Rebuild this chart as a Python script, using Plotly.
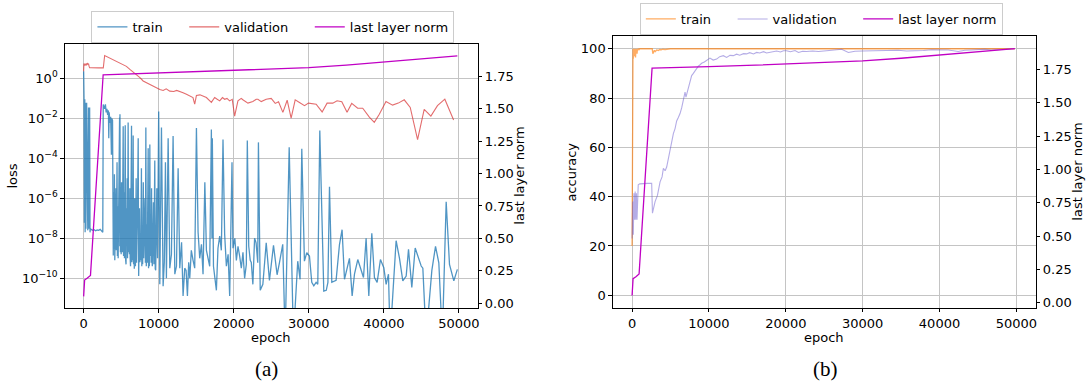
import plotly.graph_objects as go

W, H = 1091, 388

# ---------------- data ----------------
x_ticks = [0, 10000, 20000, 30000, 40000, 50000]
loss_ticks = [1e-10, 1e-8, 1e-6, 1e-4, 1e-2, 1e0]
loss_tick_text = ["10<sup>−10</sup>", "10<sup>−8</sup>", "10<sup>−6</sup>",
                  "10<sup>−4</sup>", "10<sup>−2</sup>", "10<sup>0</sup>"]
norm_ticks = [0.0, 0.25, 0.5, 0.75, 1.0, 1.25, 1.5, 1.75]
acc_ticks = [0, 20, 40, 60, 80, 100]

# last layer norm (shared by both panels)
norm_epochs = [0, 130, 500, 910, 2600, 5000, 10000, 15000, 20000, 25000,
               30000, 35000, 40000, 45000, 49800]
norm_values = [0.054, 0.18, 0.195, 0.215, 1.760, 1.765, 1.772, 1.780, 1.790,
               1.802, 1.815, 1.834, 1.858, 1.882, 1.906]

# training loss
train_loss_epochs = [
    0, 50, 100, 150, 200, 250, 300, 400, 450, 500, 550, 650, 700, 800, 850, 900,
    1000, 1200, 1400, 1600, 1800, 2000, 2200, 2400, 2550, 2610,
    2700, 2800, 2900, 3000, 3100, 3200, 3300, 3350, 3400, 3500, 3600, 3700, 3750, 3850,
    3950, 4000, 4050, 4100, 4150, 4200, 4250, 4300, 4350, 4400, 4450, 4500, 4550, 4600,
    4650, 4700, 4790, 4815, 4840, 4900, 4950, 5000, 5050, 5100, 5150, 5200, 5270, 5320,
    5380, 5440, 5500, 5540, 5600, 5650, 5700, 5750, 5800, 5850, 5930, 5990, 6050, 6100,
    6150, 6200, 6250, 6300, 6380, 6430, 6480, 6540, 6600, 6650, 6700, 6750, 6800, 6850,
    6900, 6950, 7000, 7050, 7100, 7170, 7270, 7330, 7380, 7440, 7500, 7560, 7620, 7700,
    7750, 7800, 7860, 7950, 8000, 8050, 8100, 8170, 8230, 8290, 8350, 8420, 8480, 8530,
    8600, 8650, 8700, 8760, 8820, 8880, 8950, 9000, 9050, 9100, 9150, 9220, 9300, 9360,
    9420, 9480, 9540, 9600, 9670, 9750,
    9850, 10000, 10150, 10370, 10590, 10750, 10900, 11030, 11260, 11480, 11700, 11920,
    12150, 12370, 12590, 12810, 13050, 13250, 13470, 13650, 13830, 14000, 14140, 14350,
    14580, 14800, 15030, 15250, 15470, 15700, 15910, 16150, 16360, 16600, 16800, 17020,
    17100, 17150, 17300, 17690, 17900, 18130, 18350, 18570, 18790, 19020, 19250, 19460,
    19600, 19770, 19900, 20150, 20350, 20570, 20790, 21010, 21230, 21450, 21680, 21810,
    22000, 22200, 22340, 22550, 22780, 22980, 23200, 23290, 23530, 23880, 24330, 24760,
    25300, 25780, 26100, 26530, 26850, 27390, 27950, 28530, 28840, 29070, 29420, 29730,
    30090, 30400, 30670, 30980, 31200, 31470, 32000, 32330, 32550, 32760, 33070, 33640,
    34090, 34440, 34760, 35070, 35420, 35780, 36090, 36530, 36980, 37290, 37640, 38000,
    38400, 38750, 39110, 39550, 40000, 40310, 40620, 40840, 41640, 42090, 42530, 42980,
    43290, 43730, 44180, 44530, 44980, 45200, 45640, 46400, 46890, 47330, 47800, 48310,
    48750, 49330, 49800]
train_loss = [
    2.3, 1.1e-1, 6e-8, 9e-2, 2e-8, 6e-2, 3e-8, 6e-2, 4e-8, 5e-2, 2.5e-8, 3.5e-2, 3e-8, 3.5e-2, 2e-8, 3e-8,
    2.8e-8, 2.5e-8, 2.7e-8, 2.4e-8, 2.6e-8, 2.5e-8, 2.8e-8, 2.3e-8, 2.0e-8, 5e-2,
    4e-2, 3e-2, 5e-2, 2e-2, 3e-2, 1.5e-2, 2.5e-2, 1e-3, 2e-2, 6e-3, 1.2e-2, 1.5e-4, 1e-2, 8e-3,
    1.4e-9, 2e-6, 3e-9, 1.6e-5, 7.9e-10, 5e-7, 2e-9, 3.2e-6, 2.5e-9, 1e-7, 6.3e-5, 1.3e-9, 4e-7, 1e-9,
    1e-6, 3e-9, 1.1e-2, 4e-9, 1.6e-2, 2e-9, 8e-8, 1.6e-9, 6.3e-6, 1e-8, 2e-9, 5e-7, 4e-3, 1.3e-9,
    2e-6, 1e-9, 3e-7, 4.5e-3, 8e-10, 5e-10, 3.2e-7, 6e-9, 1e-5, 1e-9, 6.3e-3, 2e-9, 5e-8, 1.6e-9,
    3.2e-6, 1e-9, 4e-10, 2e-7, 4.3e-3, 6.3e-10, 1e-7, 8e-10, 1.4e-3, 5e-10, 1e-8, 3e-10, 1e-6, 2e-9,
    4e-10, 5e-7, 1e-5, 6e-10, 3.2e-9, 2e-7, 1e-3, 1.3e-10, 3e-9, 3.2e-7, 6.3e-10, 1e-8, 8e-10, 3.2e-5,
    4e-10, 2e-8, 5e-10, 6.3e-6, 1e-9, 3e-8, 1e-9, 1e-6, 6e-10, 3.5e-3, 4e-10, 5e-8, 6e-10, 1.6e-5,
    3.2e-4, 3.2e-10, 2e-8, 4e-10, 5e-4, 1.3e-9, 1e-7, 6e-10, 3.2e-6, 1e-9, 4e-10, 3e-8, 6.3e-7, 5e-10,
    2e-8, 7.9e-5, 3e-10, 2.5e-10, 1e-8, 3.2e-6,
    1e-9, 2.2e-2, 5e-11, 3.5e-3, 4e-11, 6.3e-10, 6.3e-5, 1e-10, 1e-3, 3.2e-10, 1.6e-9, 1.3e-3,
    1.6e-10, 4e-10, 3.2e-5, 3.2e-10, 6.3e-9, 1.3e-11, 3.2e-10, 2.5e-10, 1.3e-11, 6.3e-10, 1e-10, 2.5e-9,
    7.9e-10, 3.2e-10, 3.3e-3, 2e-8, 1e-9, 5e-9, 1.6e-10, 6.3e-6, 2.5e-9, 7.9e-10, 4e-10, 2.8e-3,
    1e-8, 1e-3, 4e-10, 2.5e-11, 3.2e-9, 1.3e-8, 2.5e-9, 8.7e-4, 1.6e-8, 4e-10, 1.6e-9, 1.3e-11,
    1e-8, 6.3e-5, 3.2e-9, 1e-8, 7.9e-10, 4e-9, 1.3e-9, 3.2e-10, 2e-9, 1e-10, 5e-10, 7.9e-4,
    4e-9, 7.9e-10, 6.3e-10, 5e-11, 1e-8, 5.9e-9, 6e-10, 6.3e-4, 2.5e-11, 5e-11, 5.9e-9, 7.9e-11,
    4.5e-9, 1.5e-10, 6.3e-10, 5e-9, 1e-13, 3.6e-4, 1e-13, 7.2e-10, 8.9e-11, 3e-4, 7.2e-10, 1.9e-9,
    1.3e-9, 6.3e-11, 4.2e-11, 6.3e-11, 5e-11, 2.5e-3, 2.3e-11, 2.5e-11, 6.3e-11, 3.8e-6, 6.3e-11, 7.9e-11,
    4.9e-9, 2.7e-8, 8.9e-11, 3.4e-10, 1e-9, 1.3e-11, 1.6e-10, 8.7e-10, 2.8e-10, 1.1e-10, 1e-8, 1.3e-11,
    1.8e-8, 1.1e-10, 6.3e-11, 8.7e-10, 3.4e-10, 5e-11, 1.6e-10, 1e-13, 7.6e-9, 1e-9, 7.4e-11, 1.3e-10,
    2.8e-9, 3.5e-11, 3.3e-9, 1.4e-9, 4.1e-10, 3.2e-10, 1e-13, 2.5e-10, 4e-9, 6e-10, 1e-13, 6.8e-7,
    5e-10, 7.4e-11, 2.8e-10]

# validation loss
val_loss_epochs = [
    0, 40, 80, 130, 180, 230, 280, 330, 380, 430, 480, 530, 580, 650, 720, 800,
    1000, 1500, 2000, 2500, 2620, 2800, 3000, 3300, 3600, 3900, 4390, 4800, 5270,
    5700, 6160, 6600, 7050, 7500, 7930, 8400, 8820, 9300, 9700, 10150, 10600, 11000,
    11480, 12000, 12400, 12810, 13250, 13700, 14150, 14570, 14800, 15030, 15500, 16000,
    16360, 17020, 17460, 17800, 18130, 18500, 18790, 19100, 19450, 19800, 20120, 20560,
    21000, 21220, 21890, 22550, 23000, 23220, 23670, 24330, 24990, 25530, 25970, 26550,
    27120, 27650, 28190, 28760, 29430, 29960, 30980, 31780, 32440, 33200, 33770, 34400,
    35100, 35720, 36520, 37190, 38070, 38730, 39400, 40290, 41170, 41930, 42720, 43520,
    44500, 45380, 46270, 47150, 48130, 49300]
val_loss = [
    2.3, 5.5, 4.2, 5.0, 4.4, 5.2, 4.6, 5.6, 4.5, 5.3, 4.8, 5.8, 5.0, 5.4, 4.1, 3.4,
    3.4, 3.3, 3.35, 3.4, 3.35, 13.8, 12.6, 11.2, 10.0, 8.5, 7.2, 6.0, 4.9,
    4.0, 2.8, 2.1, 1.6, 1.1, 0.74, 0.6, 0.5, 0.42, 0.35, 0.28, 0.25, 0.3,
    0.23, 0.22, 0.25, 0.21, 0.19, 0.16, 0.13, 0.11, 0.051, 0.14, 0.15, 0.12,
    0.11, 0.063, 0.11, 0.09, 0.075, 0.11, 0.09, 0.1, 0.075, 0.09, 0.013, 0.075,
    0.1, 0.085, 0.058, 0.07, 0.09, 0.091, 0.069, 0.091, 0.1, 0.056, 0.068, 0.02,
    0.081, 0.0102, 0.085, 0.062, 0.043, 0.058, 0.051, 0.021, 0.058, 0.058, 0.076, 0.068,
    0.02, 0.056, 0.032, 0.032, 0.0115, 0.0063, 0.016, 0.069, 0.046, 0.058, 0.085, 0.035,
    0.00087, 0.028, 0.013, 0.043, 0.091, 0.0083]

# training accuracy (%)
train_acc_epochs = [
    0, 40, 80, 120, 160, 200, 240, 280, 320, 360, 400, 450, 500, 550, 600, 650, 700,
    750, 800, 900, 1000, 1500, 2000, 2500, 2620, 2700, 2800, 2900, 3000, 3200, 3400,
    3600, 3800, 4000, 4300, 4600, 5000, 10000, 20000, 30000, 40000, 49800]
train_acc = [
    20, 100, 94, 100, 96, 99, 100, 97, 100, 98, 100, 96.5, 100, 99, 100, 98, 100,
    99.5, 100, 99.6, 100, 100, 100, 100, 100, 98, 99, 99.4, 98.8, 99.5, 99.3,
    99.7, 99.6, 99.8, 99.7, 99.9, 100, 100, 100, 100, 100, 100]

# validation accuracy (%)
val_acc_epochs = [
    0, 80, 160, 240, 320, 400, 480, 560, 640, 720, 800, 1000, 1500, 2000, 2550, 2650,
    2990, 3300, 3640, 3900, 4070, 4300, 4500, 4940, 5150, 5370, 5590, 5800, 6000, 6240,
    6450, 6670, 6890, 7010, 7320, 7550, 7750, 7970, 8190, 8400, 8620, 8850, 9050, 9400,
    9700, 10130, 10550, 11000, 11400, 11870, 12300, 12740, 13170, 13600, 14000, 14500,
    14900, 15300, 15800, 16200, 16620, 17100, 17500, 18000, 18360, 18800, 19300, 19700,
    20090, 20600, 21200, 21650, 22200, 22690, 23500, 24240, 25300, 26410, 27270, 28140,
    29000, 29960, 31200, 32470, 33500, 34630, 35700, 36800, 37900, 38960, 40000, 41130,
    42430, 43300, 44160, 45000, 45890, 46800, 47620, 48700, 49800]
val_acc = [
    23, 38, 24.6, 41.4, 30.6, 42.1, 30.6, 41.4, 30.6, 41, 44.8, 45.2, 45.4, 45.4, 45.4, 33.3,
    38, 40.5, 46, 48, 51.5, 50.5, 52, 59.5, 62, 65.6, 67.6, 70.7, 72, 73.7,
    76, 79, 82.4, 80.4, 84.4, 87, 89.1, 90, 91.1, 92, 92.9, 93.5, 94.1, 94.6,
    95.2, 96.2, 95.4, 95.8, 96.8, 97.2, 96.5, 97.3, 97.2, 97.8, 97.4, 98.0,
    97.9, 98.4, 97.9, 98.5, 98.3, 98.8, 98.3, 98.6, 98.7, 99.1, 98.7, 99.2,
    99.2, 98.8, 99.3, 98.5, 99.0, 98.9, 99.1, 98.9, 99.2, 99.4, 99.8, 98.5,
    99.0, 99.1, 99.2, 99.4, 99.2, 99.4, 99.1, 99.1, 99.3, 99.6, 99.5, 99.5,
    98.9, 99.4, 99.5, 99.6, 99.8, 99.5, 99.6, 99.8, 100]

# ---------------- styling ----------------
FONT = "DejaVu Sans"
GRID = "#c4c4c4"
C_TRAIN_LOSS = "rgba(31,119,180,0.78)"
C_VAL_LOSS = "rgba(214,39,40,0.68)"
C_NORM = "#c000c4"
C_TRAIN_ACC = "rgba(255,127,14,0.65)"
C_VAL_ACC = "rgba(106,90,205,0.5)"
PAD = "\u00a0" * 4  # extra room between legend columns


def px_x(p):
    return p / W


def px_y(p):
    return 1 - p / H


fig = go.Figure()

# left panel: loss + last layer norm
fig.add_trace(go.Scatter(x=train_loss_epochs, y=train_loss, name="train" + PAD, mode="lines",
                         line=dict(color=C_TRAIN_LOSS, width=1.3),
                         xaxis="x", yaxis="y", legend="legend"))
fig.add_trace(go.Scatter(x=val_loss_epochs, y=val_loss, name="validation" + PAD, mode="lines",
                         line=dict(color=C_VAL_LOSS, width=1.1),
                         xaxis="x", yaxis="y", legend="legend"))
fig.add_trace(go.Scatter(x=norm_epochs, y=norm_values, name="last layer norm", mode="lines",
                         line=dict(color=C_NORM, width=1.3),
                         xaxis="x", yaxis="y2", legend="legend"))

# right panel: accuracy + last layer norm
fig.add_trace(go.Scatter(x=train_acc_epochs, y=train_acc, name="train" + PAD, mode="lines",
                         line=dict(color=C_TRAIN_ACC, width=1.3),
                         xaxis="x2", yaxis="y3", legend="legend2"))
fig.add_trace(go.Scatter(x=val_acc_epochs, y=val_acc, name="validation" + PAD, mode="lines",
                         line=dict(color=C_VAL_ACC, width=1.1),
                         xaxis="x2", yaxis="y3", legend="legend2"))
fig.add_trace(go.Scatter(x=norm_epochs, y=norm_values, name="last layer norm", mode="lines",
                         line=dict(color=C_NORM, width=1.3),
                         xaxis="x2", yaxis="y4", legend="legend2"))

tickfont = dict(family=FONT, size=13, color="black")
common = dict(showline=True, linecolor="black", linewidth=1.2, ticks="outside",
              ticklen=3.5, tickcolor="black", tickwidth=1, tickfont=tickfont,
              zeroline=False)

x_common = dict(common, range=[-2500, 52500], tickvals=x_ticks, tickformat="d",
                showgrid=True, gridcolor=GRID, gridwidth=1.2, mirror=True)

norm_text = ["%.2f" % v for v in norm_ticks]

fig.update_layout(
    width=W, height=H,
    margin=dict(l=0, r=0, t=0, b=0),
    paper_bgcolor="white", plot_bgcolor="white",
    font=dict(family=FONT, size=13, color="black"),
    xaxis=dict(x_common, domain=[px_x(65), px_x(478.5)], anchor="y"),
    yaxis=dict(common, domain=[px_y(310.7), px_y(44)], type="log", range=[-11.5, 1.737],
               tickvals=loss_ticks, ticktext=loss_tick_text, showgrid=True,
               gridcolor=GRID, gridwidth=1.2, mirror=True, anchor="x"),
    yaxis2=dict(common, overlaying="y", side="right", anchor="x", range=[-0.038, 2.0],
                tickvals=norm_ticks, ticktext=norm_text, showgrid=False),
    xaxis2=dict(x_common, domain=[px_x(614), px_x(1037.5)], anchor="y3"),
    yaxis3=dict(common, domain=[px_y(310), px_y(36.7)], range=[-5, 105],
                tickvals=acc_ticks, showgrid=True, gridcolor=GRID, gridwidth=1.2,
                mirror=True, anchor="x2"),
    yaxis4=dict(common, overlaying="y3", side="right", anchor="x2", range=[-0.037, 1.998],
                tickvals=norm_ticks, ticktext=norm_text, showgrid=False),
    legend=dict(orientation="h", x=px_x(91.6), y=px_y(11), xanchor="left", yanchor="top",
                bordercolor="#cccccc", borderwidth=1, bgcolor="white",
                font=dict(family=FONT, size=13, color="black")),
    legend2=dict(orientation="h", x=px_x(641), y=px_y(3), xanchor="left", yanchor="top",
                 bordercolor="#cccccc", borderwidth=1, bgcolor="white",
                 font=dict(family=FONT, size=13, color="black")),
)

# axis titles and panel captions placed in pixel coordinates
label_font = dict(family=FONT, size=13, color="black")
caption_font = dict(family="Liberation Serif", size=21, color="black")
annotations = [
    dict(text="epoch", x=px_x(271.75), y=px_y(340), font=label_font),
    dict(text="loss", x=px_x(13), y=px_y(177), textangle=-90, font=label_font),
    dict(text="last layer norm", x=px_x(521), y=px_y(177), textangle=-90, font=label_font),
    dict(text="epoch", x=px_x(825.75), y=px_y(340), font=label_font),
    dict(text="accuracy", x=px_x(573), y=px_y(173), textangle=-90, font=label_font),
    dict(text="last layer norm", x=px_x(1080), y=px_y(173), textangle=-90, font=label_font),
    dict(text="(a)", x=px_x(267), y=px_y(372), font=caption_font),
    dict(text="(b)", x=px_x(827), y=px_y(372), font=caption_font),
]
for a in annotations:
    fig.add_annotation(xref="paper", yref="paper", showarrow=False,
                       xanchor="center", yanchor="middle", **a)

fig.write_html("out.html")
